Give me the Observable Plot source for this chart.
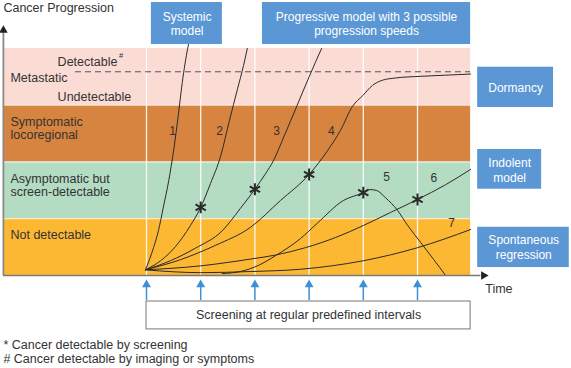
<!DOCTYPE html>
<html><head><meta charset="utf-8">
<script src="https://cdn.jsdelivr.net/npm/d3@7"></script>
<script src="https://cdn.jsdelivr.net/npm/@observablehq/plot@0.6"></script>
<style>body{margin:0;background:#fff;} svg{display:block;}</style>
</head><body><div id="chart"></div>
<script>
// Units: x = time in screening intervals (screen at 0..5), y = progression level (stage bands of height 1)
const screeningTimes = [0, 1, 2, 3, 4, 5];
const stageNames = ["Not detectable", "Asymptomatic but screen-detectable", "Symptomatic locoregional", "Metastatic"];
const stageLow = [0, 1, 2, 3];
const stageHigh = [1, 2, 3, 4];

const curve1 = [[-0.02,0.1],[0.055,0.28],[0.13,0.49],[0.22,0.79],[0.31,1.20],[0.41,1.67],[0.50,2.20],[0.59,2.85],[0.66,3.40],[0.76,4.0],[0.775,4.07]];
const curve2 = [[-0.02,0.1],[0.26,0.26],[0.535,0.51],[0.81,0.88],[1.0,1.20],[1.18,1.62],[1.37,2.11],[1.53,2.73],[1.68,3.29],[1.79,3.70],[1.86,4.0]];
const curve3 = [[-0.02,0.1],[0.44,0.26],[0.90,0.48],[1.40,0.79],[1.73,1.18],[2.0,1.52],[2.20,1.80],[2.34,2.02],[2.55,2.48],[2.78,3.00],[3.00,3.50],[3.23,4.0]];
const curve4 = [[-0.02,0.1],[0.63,0.28],[1.27,0.53],[1.92,0.85],[2.47,1.32],[3.0,1.78],[3.34,2.20],[3.58,2.56],[3.80,2.98],[3.99,3.17],[4.17,3.35],[4.35,3.44],[4.59,3.48],[5.06,3.51],[5.52,3.53],[5.98,3.55]];
const curve5 = [[1.40,0.035],[1.73,0.07],[2.07,0.18],[2.38,0.35],[2.84,0.65],[3.15,0.92],[3.63,1.32],[4.0,1.46],[4.11,1.515],[4.24,1.50],[4.41,1.37],[4.63,1.15],[4.82,0.88],[5.06,0.58],[5.30,0.28],[5.52,0.0]];
const curve6 = [[-0.02,0.1],[1.0,0.17],[1.92,0.29],[2.38,0.36],[2.93,0.49],[3.49,0.67],[4.0,0.88],[4.50,1.11],[5.0,1.34],[5.52,1.60],[5.98,1.87]];
const curve7 = [[-0.02,0.1],[0.5,0.065],[1.0,0.05],[1.92,0.07],[2.84,0.11],[4.0,0.26],[5.0,0.49],[5.98,0.81]];
const curves = [curve1, curve2, curve3, curve4, curve5, curve6, curve7];

const curveNumbers = ["1","2","3","4","5","6","7"];
const numberT = [0.48, 1.35, 2.40, 3.41, 4.43, 5.30, 5.63];
const numberV = [2.54, 2.54, 2.54, 2.54, 1.73, 1.71, 0.93];

const starT = [1, 2, 3, 4, 5];
const starV = [1.20, 1.52, 1.78, 1.46, 1.34];

// frame of the diagram in data units
const axisT = -2.64, bandEndT = 5.98, axisTopV = 4.40, axisEndT = 6.22;
const metastaticThreshold = 3.59;

const leftLabels = ["Metastatic","Detectable","Undetectable","Symptomatic","locoregional","Asymptomatic but","screen-detectable","Not detectable"];
const leftLabelT = [-2.51, -1.64, -1.64, -2.51, -2.51, -2.51, -2.51, -2.51];
const leftLabelV = [3.485, 3.77, 3.15, 2.71, 2.48, 1.705, 1.477, 0.72];

const modelBoxes = [
  {lines:["Systemic","model"], t1:0.09, t2:1.40, v1:4.07, v2:4.81, tc:0.75, vc:4.43},
  {lines:["Progressive model with 3 possible","progression speeds"], t1:2.14, t2:5.98, v1:4.07, v2:4.81, tc:4.06, vc:4.43},
  {lines:["Dormancy"], t1:6.11, t2:7.51, v1:2.96, v2:3.67, tc:6.81, vc:3.30},
  {lines:["Indolent","model"], t1:6.11, t2:7.29, v1:1.52, v2:2.22, tc:6.70, vc:1.85},
  {lines:["Spontaneous","regression"], t1:6.11, t2:7.80, v1:0.14, v2:0.85, tc:6.96, vc:0.495}
];
const screeningText = "Screening at regular predefined intervals";
const footnotes = ["* Cancer detectable by screening", "# Cancer detectable by imaging or symptoms"];

// ---- styles ----
const stageColors = ["#fdb833", "#b3dcc3", "#d6843f", "#fbdcd5"];
const boxBlue = "#5b97d4", arrowBlue = "#3d8fd6", ink = "#2a2a2a", txt = "#333";
const F = "Liberation Sans, Arial, Helvetica, sans-serif";

const bands = stageNames.map((n,i)=>({n, lo:stageLow[i], hi:stageHigh[i], c:stageColors[i]}));
const lineData = curves.flatMap((pts,i)=>pts.map(([t,v])=>({t,v,id:i+1})));
const nums = curveNumbers.map((s,i)=>({s, t:numberT[i], v:numberV[i]}));
const stars = starT.map((t,i)=>({t, v:starV[i]}));
const lefts = leftLabels.map((s,i)=>({s, t:leftLabelT[i], v:leftLabelV[i]}));
const boxText = modelBoxes.flatMap(b => b.lines.map((s,j)=>({s, t:b.tc, v:b.vc + (b.lines.length===1?0:(j===0?0.13:-0.13))})));

const chart = Plot.plot({
  width: 571, height: 368,
  marginTop: 0, marginRight: 0, marginBottom: 0, marginLeft: 0,
  x: {domain: [0, 5], range: [146, 417], axis: null},
  y: {domain: [0, 4], range: [275, 48], axis: null},
  style: {fontFamily: F, background: "#fff"},
  marks: [
    Plot.rect(bands, {x1: axisT, x2: bandEndT, y1: "lo", y2: "hi", fill: "c"}),
    Plot.ruleY(stageLow.slice(1), {x1: axisT, x2: bandEndT, stroke: "#fff", strokeWidth: 1, strokeOpacity: 0.8}),
    Plot.ruleX(screeningTimes, {y1: 0, y2: 4, stroke: "#fff", strokeWidth: 1.3, strokeOpacity: 0.9}),
    Plot.ruleY([metastaticThreshold], {x1: -1.31, x2: bandEndT, stroke: "#555", strokeWidth: 1, strokeDasharray: "6,4"}),
    Plot.line(lineData, {x: "t", y: "v", z: "id", curve: "monotone-x", stroke: ink, strokeWidth: 1}),
    Plot.dot(stars, {x: "t", y: "v", symbol: "asterisk", r: 5.6, stroke: ink, strokeWidth: 2}),
    Plot.text(nums, {x: "t", y: "v", text: "s", fontSize: 12, fill: txt}),
    Plot.text(lefts, {x: "t", y: "v", text: "s", textAnchor: "start", fontSize: 12.5, fill: txt}),
    Plot.text(["#"], {x: -0.47, y: 3.87, text: d=>d, fontSize: 7.5, fill: txt}),
    // axes
    Plot.ruleX([axisT], {y1: 0, y2: axisTopV - 0.05, stroke: "#8a8a8a", strokeWidth: 1.8}),
    Plot.ruleY([0], {x1: axisT, x2: axisEndT - 0.05, stroke: "#7a7a7a", strokeWidth: 1.6}),
    Plot.dot([0], {x: axisT, y: axisTopV - 0.08, symbol: "triangle", r: 3.2, fill: "#222", stroke: "none"}),
    Plot.dot([0], {x: axisEndT, y: 0, symbol: "triangle", r: 3.2, rotate: 90, fill: "#222", stroke: "none"}),
    Plot.text(["Cancer Progression"], {x: axisT, y: 4.72, text: d=>d, textAnchor: "start", fontSize: 12.5, fill: txt}),
    Plot.text(["Time"], {x: 6.25, y: -0.23, text: d=>d, textAnchor: "start", fontSize: 12.5, fill: txt}),
    // screening arrows and box
    Plot.ruleX(screeningTimes, {y1: -0.44, y2: -0.2, stroke: arrowBlue, strokeWidth: 1.5}),
    Plot.dot(screeningTimes, {x: d=>d, y: -0.16, symbol: "triangle", r: 3.3, fill: arrowBlue, stroke: "none"}),
    Plot.rect([0], {x1: 0, x2: bandEndT, y1: -0.95, y2: -0.458, fill: "#fff", stroke: "#777", strokeWidth: 1}),
    Plot.text([screeningText], {x: 2.99, y: -0.70, text: d=>d, fontSize: 12.5, fill: txt}),
    // model boxes
    Plot.rect(modelBoxes, {x1: "t1", x2: "t2", y1: "v1", y2: "v2", fill: boxBlue}),
    Plot.text(boxText, {x: "t", y: "v", text: "s", fontSize: 12, fill: "#fff"}),
    // footnotes
    Plot.text(footnotes, {x: axisT, y: (d,i)=> i===0 ? -1.216 : -1.48, text: d=>d, textAnchor: "start", fontSize: 12.5, fill: txt})
  ]
});
document.getElementById("chart").appendChild(chart);
</script>
</body></html>
